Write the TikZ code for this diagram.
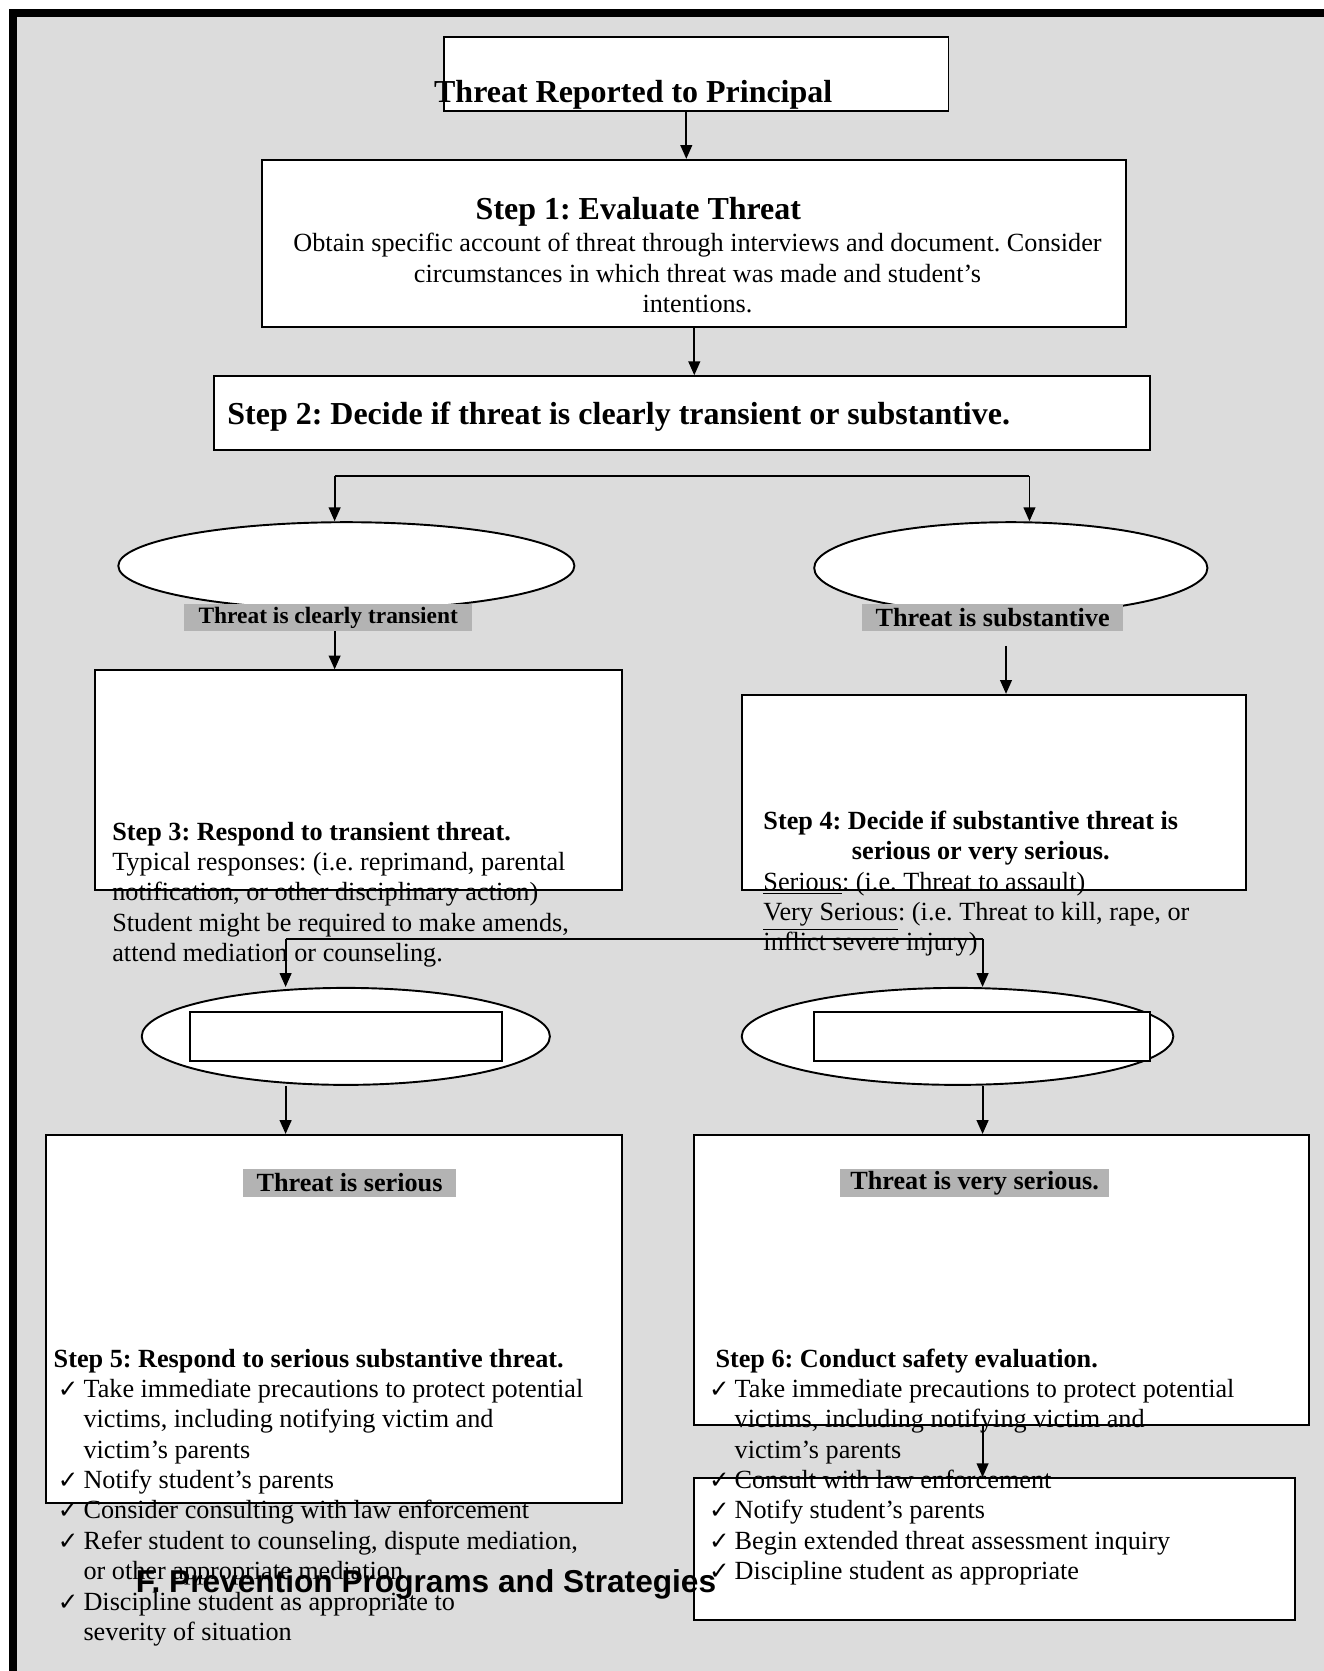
\documentclass[tikz,border=0pt]{standalone}
\usepackage{fontspec}
\setmainfont{Liberation Serif}
\newfontfamily\headfont{Liberation Sans}
\newfontfamily\tickfont{DejaVu Sans}
\usetikzlibrary{shapes.geometric,arrows.meta}
\frenchspacing
\definecolor{panelgray}{HTML}{DCDCDC}
\definecolor{taggray}{HTML}{B3B3B3}
\newcommand{\okmark}{\makebox[12pt][l]{\tickfont\fontsize{11.5}{12}\selectfont ✓}}
\newcommand{\okgap}{\hspace*{12pt}}
\tikzset{
  box/.style={draw, fill=white, line width=0.9pt, inner sep=0},
  oval/.style={ellipse, draw, fill=white, line width=0.9pt, inner sep=0},
  tag/.style={fill=taggray, inner sep=0, font=\bfseries\fontsize{12.3}{14}\selectfont},
  txt/.style={inner sep=0, align=left, anchor=north west, font=\fontsize{12.3}{14.25}\selectfont},
  head/.style={inner sep=0, anchor=base west, font=\bfseries\fontsize{15}{18}\selectfont},
  steptitle/.style={inner sep=0, anchor=base west, font=\bfseries\fontsize{12.3}{14.25}\selectfont},
  arr/.style={line width=0.9pt, -{Triangle[width=5.5pt,length=6.5pt]}},
}
\begin{document}
\begin{tikzpicture}[x=0.5pt,y=-0.5pt]
                \useasboundingbox (0,0) rectangle (1242,1568);
                \fill[white] (0,0) rectangle (1242,1568);
                \fill[panelgray] (12.2,12.2) rectangle (1242,1568);
                \draw[line width=3.75pt] (12.2,1568) -- (12.2,12.2) -- (1242,12.2);

                \node[box, minimum width=236.5pt, minimum height=34.5pt] (report) at (653.5,69.5) {};
                \node[box, minimum width=405.5pt, minimum height=78.5pt] (eval) at (651.5,228.5) {};
                \node[box, minimum width=439pt, minimum height=34.5pt] (decide) at (640,387.5) {};
                \node[oval, minimum width=214pt, minimum height=41pt] (ellT) at (325,531) {};
                \node[oval, minimum width=184.5pt, minimum height=43pt] (ellS) at (948.5,533) {};
                \node[tag, minimum width=135pt, minimum height=12.5pt, font=\bfseries\fontsize{11}{13}\selectfont] (labT) at (308,579.5) {Threat is clearly transient};
                \node[tag, minimum width=122.5pt, minimum height=13pt] (labS) at (931.5,579.5) {Threat is substantive};
                \node[box, minimum width=247.5pt, minimum height=103pt] (resp) at (336.5,732) {};
                \node[box, minimum width=236.5pt, minimum height=91.5pt] (sev) at (932.5,743.5) {};
                \node[oval, minimum width=191.5pt, minimum height=45.5pt] (ellL) at (324.5,972.5) {};
                \node[box, minimum width=146.5pt, minimum height=23pt] (rectL) at (324.5,973) {};
                \node[oval, minimum width=202.5pt, minimum height=45.5pt] (ellR) at (898.5,972.5) {};
                \node[box, minimum width=157.5pt, minimum height=23pt] (rectR) at (921.5,973) {};
                \node[box, minimum width=270.5pt, minimum height=172.5pt] (safe5) at (313.5,1237.5) {};
                \node[box, minimum width=288.5pt, minimum height=136pt] (safe6) at (939.5,1201) {};
                \node[box, minimum width=282pt, minimum height=66.5pt] (acts) at (933,1453.5) {};
                \node[tag, minimum width=100pt, minimum height=13pt] (labSer) at (328,1110) {Threat is serious};
                \node[tag, minimum width=126.5pt, minimum height=13pt] (labVery) at (914.5,1110) {Threat is very serious.};

                \coordinate (forkL) at (314,447);
                \coordinate (forkR) at (966,447);
                \coordinate (subOut) at (944,606);
                \coordinate (joinL) at (268,881);
                \coordinate (joinR) at (922,881);
                \draw[arr] ([xshift=-4.75pt]report.south) -- ([xshift=-4.75pt]report.south |- eval.north);
                \draw[arr] (eval.south) -- (eval.south |- decide.north);
                \draw[line width=0.9pt] (forkL) -- (forkR);
                \draw[arr] (forkL) -- (forkL |- ellT.north);
                \draw[arr] (forkR) -- (forkR |- ellS.north);
                \draw[arr] (forkL |- labT.south) -- (forkL |- resp.north);
                \draw[arr] (subOut) -- (subOut |- sev.north);
                \draw[line width=0.9pt] (joinL) -- (joinR);
                \draw[arr] (joinL) -- (joinL |- ellL.north);
                \draw[arr] (joinR) -- (joinR |- ellR.north);
                \draw[arr] (joinL |- ellL.south) -- (joinL |- safe5.north);
                \draw[arr] (joinR |- ellR.south) -- (joinR |- safe6.north);
                \draw[arr] (joinR |- safe6.south) -- (joinR |- acts.north);

                \node[head] (reporttxt) at (407,96) {Threat Reported to Principal};
                \node[head] (evalhead) at (446,206) {Step 1: Evaluate Threat};
                \node[txt, align=center, anchor=north] (evaltxt) at (654.5,216) {\strut Obtain specific account of threat through interviews and document. Consider\\circumstances in which threat was made and student’s\\intentions.};
                \node[head] (decidetxt) at (213,398) {Step 2: Decide if threat is clearly transient or substantive.};
                \node[txt] (resptxt) at (105,768) {\strut\textbf{Step 3: Respond to transient threat.}\\Typical responses: (i.e. reprimand, parental\\notification, or other disciplinary action)\\Student might be required to make amends,\\attend mediation or counseling.};
                \node[txt] (sevtxt) at (716,758) {\strut\textbf{Step 4: Decide if substantive threat is}\\\hspace*{41.5pt}\textbf{serious or very serious.}\\\underline{Serious}: (i.e. Threat to assault)\\\underline{Very Serious}: (i.e. Threat to kill, rape, or\\inflict severe injury)};
                \node[steptitle] (head5) at (50,1283) {Step 5: Respond to serious substantive threat.};
                \node[txt] (list5) at (54,1291) {\strut\okmark Take immediate precautions to protect potential\\\okgap victims, including notifying victim and\\\okgap victim’s parents\\\okmark Notify student’s parents\\\okmark Consider consulting with law enforcement\\\okmark Refer student to counseling, dispute mediation,\\\okgap or other appropriate mediation\\\okmark Discipline student as appropriate to\\\okgap severity of situation};
                \node[steptitle] (head6) at (671,1283) {Step 6: Conduct safety evaluation.};
                \node[txt] (list6) at (665,1291) {\strut\okmark Take immediate precautions to protect potential\\\okgap victims, including notifying victim and\\\okgap victim’s parents\\\okmark Consult with law enforcement\\\okmark Notify student’s parents\\\okmark Begin extended threat assessment inquiry\\\okmark Discipline student as appropriate};
                \node[inner sep=0, anchor=base west, font=\headfont\bfseries\fontsize{14.85}{17}\selectfont] (section) at (127,1494) {F. Prevention Programs and Strategies};
            \end{tikzpicture}
\end{document}
